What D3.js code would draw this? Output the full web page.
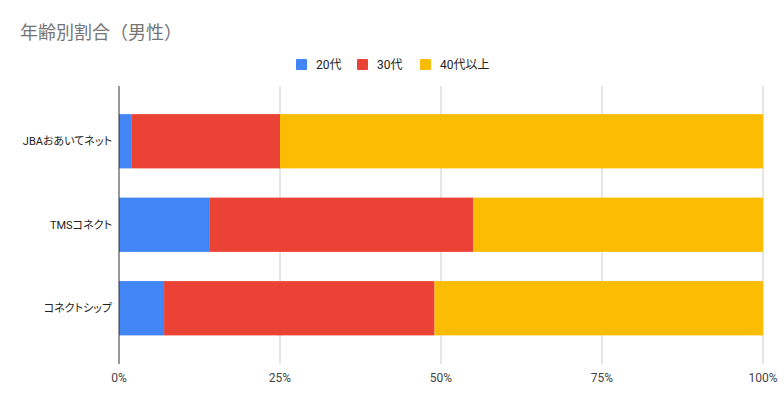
<!DOCTYPE html>
<html>
<head>
<meta charset="utf-8">
<script src="https://cdn.jsdelivr.net/npm/d3@7"></script>
<style>
body { margin: 0; background: #fff; }
svg text { font-family: Roboto, "Noto Sans CJK JP", sans-serif; }
.yl { font-feature-settings: "palt"; }
</style>
</head>
<body>
<div id="chart"></div>
<script>
var categories = ["JBAおあいてネット", "TMSコネクト", "コネクトシップ"]
var seriesNames = ["20代", "30代", "40代以上"]
var colors = ["#4285f4", "#ea4335", "#fbbc04"]
var v20 = [2, 14, 7]
var v30 = [23, 41, 42]
var v40 = [75, 45, 51]
var ticks = [0, 0.25, 0.5, 0.75, 1]

var width = 784, height = 404
var left = 119, right = 763

var svg = d3.select("#chart").append("svg")
    .attr("width", width)
    .attr("height", height)

svg.append("text")
    .attr("x", 20).attr("y", 39)
    .attr("fill", "#757575")
    .style("font-size", "18px")
    .text("年齢別割合（男性）")

// legend
var legX = [296, 357, 420]
var leg = svg.selectAll(".leg").data(seriesNames).enter().append("g")
    .attr("class", "leg")
    .attr("transform", function(d, i){ return "translate(" + legX[i] + ",59)" })
leg.append("rect").attr("width", 11).attr("height", 11).attr("rx", 1)
    .attr("fill", function(d, i){ return colors[i] })
leg.append("text").attr("x", 20).attr("y", 10)
    .attr("fill", "#222").style("font-size", "12px")
    .text(function(d){ return d })

var x = d3.scaleLinear().domain([0, 1]).range([left, right])
var y = d3.scaleBand().domain(categories).range([99.5, 350]).paddingInner(0.35).paddingOuter(0.175)

// gridlines
svg.selectAll(".grid").data(ticks.slice(1)).enter().append("line")
    .attr("class", "grid")
    .attr("x1", function(d){ return x(d) }).attr("x2", function(d){ return x(d) })
    .attr("y1", 86).attr("y2", 364)
    .attr("stroke", "#ccc").attr("stroke-width", 1)

var rows = categories.map(function(c, i){
    var tot = v20[i] + v30[i] + v40[i]
    return { cat: c, "20代": v20[i] / tot, "30代": v30[i] / tot, "40代以上": v40[i] / tot }
})
var stacked = d3.stack().keys(seriesNames)(rows)

svg.selectAll(".series").data(stacked).enter().append("g")
    .attr("fill", function(d, i){ return colors[i] })
    .selectAll("rect").data(function(d){ return d }).enter().append("rect")
    .attr("x", function(d){ return x(d[0]) })
    .attr("width", function(d){ return x(d[1]) - x(d[0]) })
    .attr("y", function(d){ return y(d.data.cat) })
    .attr("height", y.bandwidth())

// baseline
svg.append("line")
    .attr("x1", x(0)).attr("x2", x(0))
    .attr("y1", 86).attr("y2", 364)
    .attr("stroke", "#333").attr("stroke-width", 1)

// x labels
svg.selectAll(".xl").data(ticks).enter().append("text")
    .attr("x", function(d){ return x(d) })
    .attr("y", 382)
    .attr("text-anchor", "middle")
    .attr("fill", "#444").style("font-size", "12px")
    .text(d3.format(".0%"))

// y labels
svg.selectAll(".yl").data(categories).enter().append("text")
    .attr("class", "yl")
    .attr("x", 112)
    .attr("y", function(d){ return y(d) + y.bandwidth() / 2 + 4 })
    .attr("text-anchor", "end")
    .attr("fill", "#222").style("font-size", "11px")
    .text(function(d){ return d })
</script>
</body>
</html>
